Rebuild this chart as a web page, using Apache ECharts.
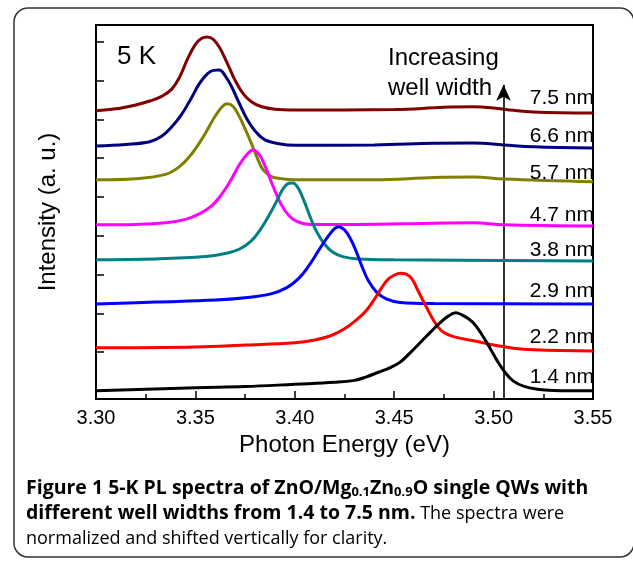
<!DOCTYPE html>
<html>
<head>
<meta charset="utf-8">
<script src="https://cdn.jsdelivr.net/npm/echarts@6/dist/echarts.min.js"></script>
<style>
  html, body { margin: 0; padding: 0; background: #fff; }
  #chart { width: 633px; height: 562px; }
</style>
</head>
<body>
<div id="chart"></div>
<script>
// spectra: [photon energy (eV), shifted intensity (a.u.)]
const w75 = [[3.300,7.22],[3.310,7.27],[3.320,7.37],[3.327,7.47],[3.333,7.59],[3.338,7.77],[3.342,8.08],
  [3.346,8.55],[3.350,8.93],[3.353,9.08],[3.356,9.12],[3.359,9.06],[3.362,8.86],[3.366,8.45],
  [3.370,8.00],[3.374,7.66],[3.378,7.46],[3.383,7.33],[3.390,7.26],[3.400,7.24],[3.450,7.25],
  [3.475,7.31],[3.490,7.32],[3.500,7.29],[3.510,7.23],[3.520,7.19],[3.550,7.16]];
const w66 = [[3.300,6.31],[3.315,6.35],[3.327,6.42],[3.333,6.56],[3.338,6.80],[3.343,7.12],[3.348,7.55],
  [3.352,7.92],[3.356,8.17],[3.359,8.26],[3.362,8.27],[3.365,8.12],[3.368,7.86],[3.372,7.42],
  [3.376,7.00],[3.380,6.70],[3.385,6.47],[3.392,6.37],[3.400,6.33],[3.440,6.34],[3.470,6.38],
  [3.490,6.39],[3.505,6.34],[3.520,6.29],[3.550,6.26]];
const w57 = [[3.300,5.44],[3.320,5.47],[3.335,5.58],[3.342,5.78],[3.348,6.10],[3.354,6.55],[3.359,7.00],
  [3.363,7.30],[3.366,7.40],[3.369,7.33],[3.372,7.08],[3.375,6.75],[3.378,6.40],[3.381,6.02],
  [3.384,5.70],[3.388,5.53],[3.393,5.47],[3.400,5.44],[3.440,5.44],[3.470,5.50],[3.490,5.51],
  [3.505,5.46],[3.550,5.39]];
const w47 = [[3.300,4.28],[3.320,4.29],[3.335,4.33],[3.345,4.42],[3.352,4.56],[3.358,4.76],[3.363,5.05],
  [3.368,5.45],[3.372,5.82],[3.376,6.10],[3.379,6.21],[3.382,6.10],[3.385,5.80],[3.389,5.28],
  [3.393,4.82],[3.397,4.52],[3.401,4.37],[3.408,4.29],[3.430,4.29],[3.470,4.32],[3.490,4.33],
  [3.505,4.28],[3.550,4.25]];
const w38 = [[3.300,3.38],[3.330,3.40],[3.355,3.46],[3.365,3.54],[3.372,3.65],[3.378,3.86],[3.383,4.18],
  [3.387,4.52],[3.391,4.90],[3.394,5.20],[3.397,5.35],[3.399,5.36],[3.402,5.20],[3.405,4.85],
  [3.408,4.45],[3.411,4.10],[3.415,3.78],[3.419,3.58],[3.424,3.46],[3.432,3.40],[3.450,3.38],
  [3.550,3.35]];
const w29 = [[3.300,2.24],[3.330,2.29],[3.360,2.34],[3.375,2.40],[3.388,2.50],[3.396,2.66],[3.402,2.90],
  [3.407,3.22],[3.412,3.62],[3.417,4.00],[3.420,4.18],[3.422,4.23],[3.425,4.15],[3.428,3.92],
  [3.431,3.58],[3.434,3.18],[3.437,2.84],[3.441,2.55],[3.446,2.37],[3.453,2.28],[3.470,2.25],
  [3.550,2.24]];
const w22 = [[3.300,1.11],[3.350,1.13],[3.375,1.18],[3.400,1.24],[3.410,1.31],[3.418,1.42],[3.425,1.60],
  [3.431,1.83],[3.436,2.07],[3.440,2.36],[3.444,2.68],[3.447,2.88],[3.450,2.98],[3.453,3.03],
  [3.456,3.01],[3.459,2.88],[3.462,2.58],[3.466,2.18],[3.470,1.80],[3.474,1.54],[3.479,1.41],
  [3.485,1.34],[3.492,1.27],[3.500,1.18],[3.510,1.10],[3.520,1.06],[3.550,1.03]];
const w14 = [[3.300,0.00],[3.350,0.08],[3.375,0.11],[3.400,0.17],[3.420,0.22],[3.430,0.27],[3.436,0.36],
  [3.442,0.48],[3.448,0.60],[3.453,0.74],[3.458,0.98],[3.463,1.24],[3.468,1.50],[3.473,1.75],
  [3.477,1.92],[3.481,2.01],[3.484,1.96],[3.487,1.87],[3.490,1.74],[3.494,1.46],[3.498,1.12],
  [3.502,0.76],[3.506,0.46],[3.510,0.25],[3.515,0.12],[3.522,0.04],[3.530,0.01],[3.550,0.00]];

const widths = ['7.5 nm','6.6 nm','5.7 nm','4.7 nm','3.8 nm','2.9 nm','2.2 nm','1.4 nm'];
const spectra = [w75, w66, w57, w47, w38, w29, w22, w14];
const colors = ['#800000','#000080','#808000','#ff00ff','#008080','#0000ff','#ff0000','#000000'];
const labelY = [7.55, 6.57, 5.62, 4.54, 3.63, 2.58, 1.39, 0.36];
const yTicks = [0,1,2,3,4,5,6,7,8,9];
const arrowX = 3.505, arrowY = [-0.21, 7.89];

const font = 'Liberation Sans, Arial, sans-serif';
const chart = echarts.init(document.getElementById('chart'));

const lineSeries = spectra.map((d, i) => ({
  name: widths[i],
  type: 'line',
  data: d,
  smooth: 0.4,
  showSymbol: false,
  lineStyle: { color: colors[i], width: 3 },
  z: 3 + i
}));

const staticGraphics = [
  { id: 'frame', type: 'rect', shape: { x: 14, y: 8, width: 620, height: 549, r: 14 },
    style: { fill: 'none', stroke: '#333', lineWidth: 1.5 }, silent: true },
  { id: 'temp', type: 'text', x: 117, y: 57,
    style: { text: '5 K', font: '26px ' + font, fill: '#000', textVerticalAlign: 'middle' } },
  { id: 'note', type: 'text', x: 388, y: 43,
    style: { text: 'Increasing\nwell width', font: '24px ' + font, lineHeight: 30,
      fill: '#000', textVerticalAlign: 'top' } },
  { id: 'caption', type: 'text', x: 26, y: 476,
    style: {
      text: '{b|Figure 1 5-K PL spectra of ZnO/Mg}{s|0.1}{b|Zn}{s|0.9}{b|O single QWs with}\n' +
            '{b|different well widths from 1.4 to 7.5 nm.}{n| The spectra were}\n' +
            '{n|normalized and shifted vertically for clarity.}',
      textVerticalAlign: 'top',
      rich: {
        b: { fontFamily: 'Open Sans', fontSize: 19.5, fontWeight: 'bold', color: '#231f20', lineHeight: 25 },
        s: { fontFamily: 'Open Sans', fontSize: 13, fontWeight: 'bold', color: '#231f20',
             lineHeight: 13, padding: [8, 0, 0, 0] },
        n: { fontFamily: 'Open Sans', fontSize: 18, color: '#555', lineHeight: 25 }
      }
    } }
];

chart.setOption({
  animation: false,
  backgroundColor: '#fff',
  grid: { left: 96, right: 40, top: 25, bottom: 163 },
  xAxis: [{
    type: 'value', min: 3.3, max: 3.55, interval: 0.05,
    name: 'Photon Energy (eV)', nameLocation: 'middle', nameGap: 32,
    nameTextStyle: { fontFamily: font, fontSize: 24, color: '#000' },
    axisLine: { show: true, onZero: false, lineStyle: { color: '#000', width: 2 } },
    axisTick: { inside: true, length: 8, lineStyle: { color: '#000', width: 1.5 } },
    minorTick: { show: true, splitNumber: 2, length: 5, lineStyle: { color: '#000', width: 1.5 } },
    axisLabel: { fontFamily: font, fontSize: 20, color: '#000', margin: 9,
      formatter: v => v.toFixed(2) },
    splitLine: { show: false }
  }, {
    type: 'value', position: 'top', min: 3.3, max: 3.55,
    axisLine: { show: true, onZero: false, lineStyle: { color: '#000', width: 2 } },
    axisTick: { show: false }, axisLabel: { show: false }, splitLine: { show: false }
  }],
  yAxis: [{
    type: 'value', min: -0.21, max: 9.43,
    name: 'Intensity (a. u.)', nameLocation: 'middle', nameGap: 36,
    nameTextStyle: { fontFamily: font, fontSize: 24, color: '#000' },
    axisLine: { show: true, onZero: false, lineStyle: { color: '#000', width: 2 } },
    axisTick: { show: true, inside: true, length: 8, customValues: yTicks,
      lineStyle: { color: '#000', width: 1.5 } },
    axisLabel: { show: false },
    splitLine: { show: false }
  }, {
    type: 'value', position: 'right', min: -0.21, max: 9.43,
    axisLine: { show: true, onZero: false, lineStyle: { color: '#000', width: 2 } },
    axisTick: { show: false }, axisLabel: { show: false }, splitLine: { show: false }
  }],
  series: lineSeries.concat([{
    type: 'line',
    data: [],
    markLine: {
      silent: true,
      symbol: ['none', 'arrow'],
      symbolSize: [11, 16],
      label: { show: false },
      itemStyle: { color: '#000' },
      lineStyle: { color: '#000', width: 1.6, type: 'solid', opacity: 1 },
      data: [[{ coord: [arrowX, arrowY[0]] }, { coord: [arrowX, arrowY[1]] }]]
    }
  }]),
  graphic: staticGraphics
});

// well-width labels, placed through the axis scale at the right edge
const widthLabels = widths.map((w, i) => {
  const p = chart.convertToPixel({ gridIndex: 0 }, [3.55, labelY[i]]);
  return { id: 'lbl' + i, type: 'text', x: p[0] + 1, y: p[1], z: 20,
    style: { text: w, font: '21px ' + font, fill: '#000',
      textAlign: 'right', textVerticalAlign: 'middle' } };
});
chart.setOption({ graphic: staticGraphics.concat(widthLabels) });
</script>
</body>
</html>
